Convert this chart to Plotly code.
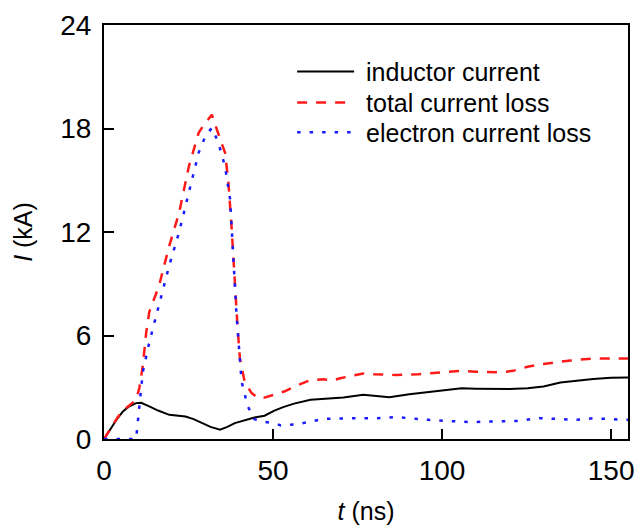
import plotly.graph_objects as go

# Inductor current (kA) vs time (ns)
t_ind = [0, 1, 1.8, 2.7, 4, 5.6, 7.5, 9.5, 11, 13.4, 16, 19.3, 22, 24.1, 26.5, 29, 31.5,
         34.3, 36.5, 38.7, 41.5, 44.5, 47.5, 50.4, 53, 56.2, 61.1, 66, 70.8, 76.7, 80,
         84.4, 90.3, 95, 100, 105.8, 110, 115.6, 120, 125.3, 130, 135, 140, 144.7, 150, 155]
i_ind = [0, 0.3, 0.56, 0.84, 1.2, 1.6, 1.9, 2.08, 2.1, 1.89, 1.65, 1.4, 1.35, 1.3, 1.15,
         0.92, 0.7, 0.54, 0.7, 0.92, 1.1, 1.25, 1.35, 1.65, 1.85, 2.05, 2.27, 2.35, 2.4,
         2.56, 2.5, 2.42, 2.6, 2.7, 2.79, 2.94, 2.92, 2.9, 2.9, 2.94, 3.05, 3.27, 3.4,
         3.48, 3.55, 3.56]

# Total current loss (kA)
t_tot = [0, 1, 1.8, 2.7, 4, 5.6, 7.5, 9.5, 10.5, 11.5, 12.5, 13.4, 16.3, 19.3, 22.2, 25.1,
         28, 29.5, 31.9, 33.4, 34.5, 35.8, 36.8, 37.7, 38.7, 39.5, 40.2, 41.6, 43.5, 45.5,
         47.5, 50.4, 53.3, 57, 61.1, 65, 67.5, 69.8, 73, 76.7, 80, 86.4, 93, 100, 105.8,
         110, 117.5, 121, 125.3, 130, 133, 138, 144.7, 150, 155]
i_tot = [0, 0.3, 0.56, 0.84, 1.25, 1.65, 1.95, 2.27, 3.0, 4.29, 6.2, 7.37, 8.9, 11.2, 13.1,
         15.8, 17.75, 18.2, 18.8, 17.9, 17.3, 16.6, 14.87, 12.4, 8.9, 6.5, 4.67, 3.33, 2.7,
         2.37, 2.4, 2.56, 2.75, 3.1, 3.42, 3.46, 3.38, 3.52, 3.65, 3.8, 3.75, 3.71, 3.75,
         3.85, 3.96, 3.9, 3.86, 3.95, 4.19, 4.35, 4.44, 4.55, 4.67, 4.65, 4.67]

# Electron current loss (kA)
t_ele = [0, 9.5, 10.5, 11.5, 13.4, 16.3, 19.3, 22.2, 25.1, 28, 30, 31.9, 33.8, 35.8, 37.3,
         38.2, 39.2, 40.7, 42.5, 44.5, 47, 50.4, 52.3, 57.2, 61, 65, 72.7, 80, 86.4, 96.1,
         107.8, 115.6, 122, 129.2, 135, 139.9, 144.7, 150, 155]
i_ele = [0, 0, 1.98, 3.9, 5.6, 7.75, 10.06, 11.98, 14.3, 16.6, 17.56, 18.04, 17.2, 15.8,
         13.9, 11.0, 7.17, 3.33, 1.9, 1.15, 1.0, 0.92, 0.79, 0.85, 1.0, 1.17, 1.2, 1.2,
         1.27, 1.11, 0.98, 1.0, 1.05, 1.21, 1.15, 1.11, 1.2, 1.15, 1.11]

series_names = ["inductor current", "total current loss", "electron current loss"]
x_ticks = [0, 50, 100, 150]
y_ticks = [0, 6, 12, 18, 24]

FONT = "Liberation Sans, Arial, sans-serif"
GAP = "\u00a0"  # small extra gap between legend sample and label

fig = go.Figure()
fig.add_trace(go.Scatter(x=t_ind, y=i_ind, mode="lines", name=GAP + series_names[0],
                         legend="legend",
                         line=dict(color="black", width=2)))
fig.add_trace(go.Scatter(x=t_tot, y=i_tot, mode="lines", name=GAP + series_names[1],
                         legend="legend2",
                         line=dict(color="#ff1a1a", width=2.5, dash="10px,9px")))
fig.add_trace(go.Scatter(x=t_ele, y=i_ele, mode="lines", name=GAP + series_names[2],
                         legend="legend3",
                         line=dict(color="#1a1aff", width=2.5, dash="3.5px,9px")))

axis_common = dict(
    showline=True, linecolor="black", linewidth=2, mirror=True,
    ticks="inside", ticklen=10, tickwidth=2, tickcolor="black",
    showgrid=False, zeroline=False,
    tickfont=dict(family=FONT, size=28, color="black"),
)

fig.update_xaxes(range=[0, 155], tickvals=x_ticks, ticklabelstandoff=5,
                 title=dict(text="<i>t</i> (ns)", font=dict(family=FONT, size=25, color="black"),
                            standoff=18),
                 **axis_common)
fig.update_yaxes(range=[0, 24], tickvals=y_ticks, ticklabelstandoff=5,
                 title=dict(text="<i>I</i> (kA)", font=dict(family=FONT, size=25, color="black"),
                            standoff=20),
                 **axis_common)

legend_style = dict(xanchor="left", yanchor="middle",
                    font=dict(family=FONT, size=25, color="black"),
                    bgcolor="rgba(0,0,0,0)", itemwidth=57)
legend_x = 0.359
fig.update_layout(
    width=640, height=527,
    margin=dict(l=104, r=6, t=25, b=86),
    paper_bgcolor="white", plot_bgcolor="white",
    showlegend=True,
    legend=dict(x=legend_x, y=(441 - 72) / 416, **legend_style),
    legend2=dict(x=legend_x, y=(441 - 103) / 416, **legend_style),
    legend3=dict(x=legend_x, y=(441 - 133) / 416, **legend_style),
)

fig.write_html("out.html")
